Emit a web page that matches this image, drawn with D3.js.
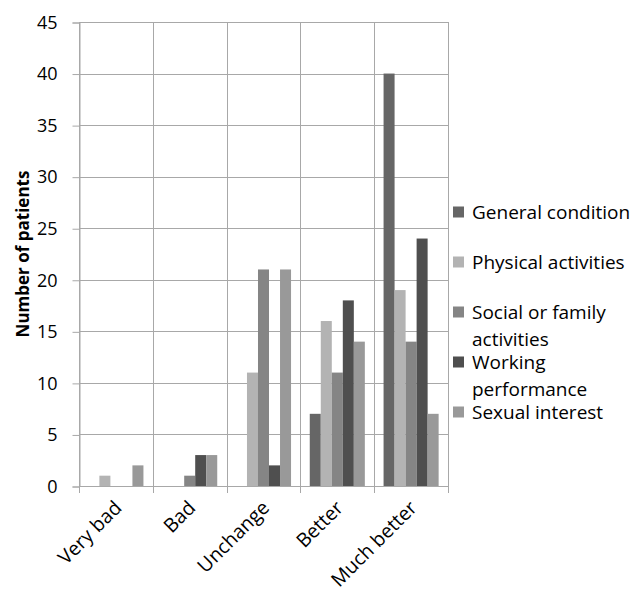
<!DOCTYPE html>
<html lang="en">
<head>
    <meta charset="utf-8">
    <title>Number of patients</title>
    <style>
        body { margin: 0; background: #fff; }
        svg text { font-family: 'Open Sans', sans-serif; fill: #000; }
    </style>
    <script src="https://d3js.org/d3.v7.min.js" charset="utf-8"></script>
</head>
<body>
<svg id="chart" width="635" height="594"></svg>
<script type="text/javascript">
// categories on the x axis
var categories = ["Very bad", "Bad", "Unchange", "Better", "Much better"];
// series, one value per category
var series = ["General condition", "Physical activities", "Social or family activities",
              "Working performance", "Sexual interest"];
var generalCondition   = [0, 0, 0, 7, 40];
var physicalActivities = [1, 0, 11, 16, 19];
var socialFamily       = [0, 1, 21, 11, 14];
var workingPerformance = [0, 3, 2, 18, 24];
var sexualInterest     = [2, 3, 21, 14, 7];
var yTicks = [0, 5, 10, 15, 20, 25, 30, 35, 40, 45];
var colors = ["#666666", "#b3b3b3", "#858585", "#4f4f4f", "#999999"];

var values = [generalCondition, physicalActivities, socialFamily, workingPerformance, sexualInterest];

var svg = d3.select("#chart");
var plotL = 79, plotR = 448, plotT = 22, plotB = 486;
var gridColor = "#a8a8a8";

var x = d3.scaleBand().domain(categories).range([plotL, plotR]).paddingInner(0).paddingOuter(0);
var x1 = d3.scaleBand().domain(series).range([0, x.bandwidth()]).paddingInner(0).paddingOuter(0.85);
var y = d3.scaleLinear().domain([0, 45]).range([plotB, plotT]);

// horizontal grid
svg.append("g").selectAll("line").data(yTicks).join("line")
    .attr("x1", plotL).attr("x2", plotR)
    .attr("y1", d => Math.round(y(d)) + 0.5).attr("y2", d => Math.round(y(d)) + 0.5)
    .attr("stroke", gridColor).attr("stroke-width", 1);

// vertical grid at category boundaries
var bounds = categories.map(c => x(c)).concat([plotR]);
svg.append("g").selectAll("line").data(bounds).join("line")
    .attr("x1", d => Math.round(d) + 0.5).attr("x2", d => Math.round(d) + 0.5)
    .attr("y1", plotT).attr("y2", plotB + 7)
    .attr("stroke", gridColor).attr("stroke-width", 1);

// y axis
var yAxis = svg.append("g")
    .attr("transform", "translate(" + (plotL + 0.5) + ",0.5)")
    .call(d3.axisLeft(y).tickValues(yTicks).tickSize(7).tickPadding(15));
yAxis.select(".domain").attr("stroke", gridColor);
yAxis.selectAll(".tick line").attr("stroke", gridColor);
yAxis.selectAll(".tick text").attr("font-size", "18px").attr("font-family", "'Open Sans', sans-serif");

// bars
var groups = svg.append("g").selectAll("g").data(categories).join("g")
    .attr("transform", d => "translate(" + x(d) + ",0)");
groups.selectAll("rect")
    .data((c, ci) => series.map((s, si) => ({ s: s, si: si, v: values[si][ci] })))
    .join("rect")
    .attr("x", d => x1(d.s))
    .attr("width", x1.bandwidth())
    .attr("y", d => y(d.v))
    .attr("height", d => y(0) - y(d.v))
    .attr("fill", d => colors[d.si]);

// x labels
svg.append("g").selectAll("text").data(categories).join("text")
    .attr("transform", d => "translate(" + (x(d) + x.bandwidth() / 2 + 7) + ",509) rotate(-45)")
    .attr("text-anchor", "end")
    .attr("font-size", "19.5px")
    .text(d => d);

// y title
svg.append("text")
    .attr("transform", "translate(29," + ((plotT + plotB) / 2) + ") rotate(-90)")
    .attr("text-anchor", "middle")
    .attr("font-size", "17px")
    .attr("font-weight", "bold")
    .text("Number of patients");

// legend
var legend = svg.append("g").selectAll("g").data(series).join("g")
    .attr("transform", (d, i) => "translate(453," + (212 + i * 50) + ")");
legend.append("rect")
    .attr("x", 0).attr("y", -5.5).attr("width", 11).attr("height", 11)
    .attr("fill", (d, i) => colors[i]);
legend.append("text")
    .attr("x", 19).attr("y", 0)
    .attr("font-size", "19px")
    .each(function (d) {
        var t = d3.select(this), words = d.split(" "), line = [];
        var ts = t.append("tspan").attr("x", 19).attr("dy", "0.35em");
        words.forEach(function (w) {
            line.push(w);
            ts.text(line.join(" "));
            if (ts.node().getComputedTextLength() > 160 && line.length > 1) {
                line.pop();
                ts.text(line.join(" "));
                line = [w];
                ts = t.append("tspan").attr("x", 19).attr("dy", "27px").text(w);
            }
        });
    });
</script>
</body>
</html>
